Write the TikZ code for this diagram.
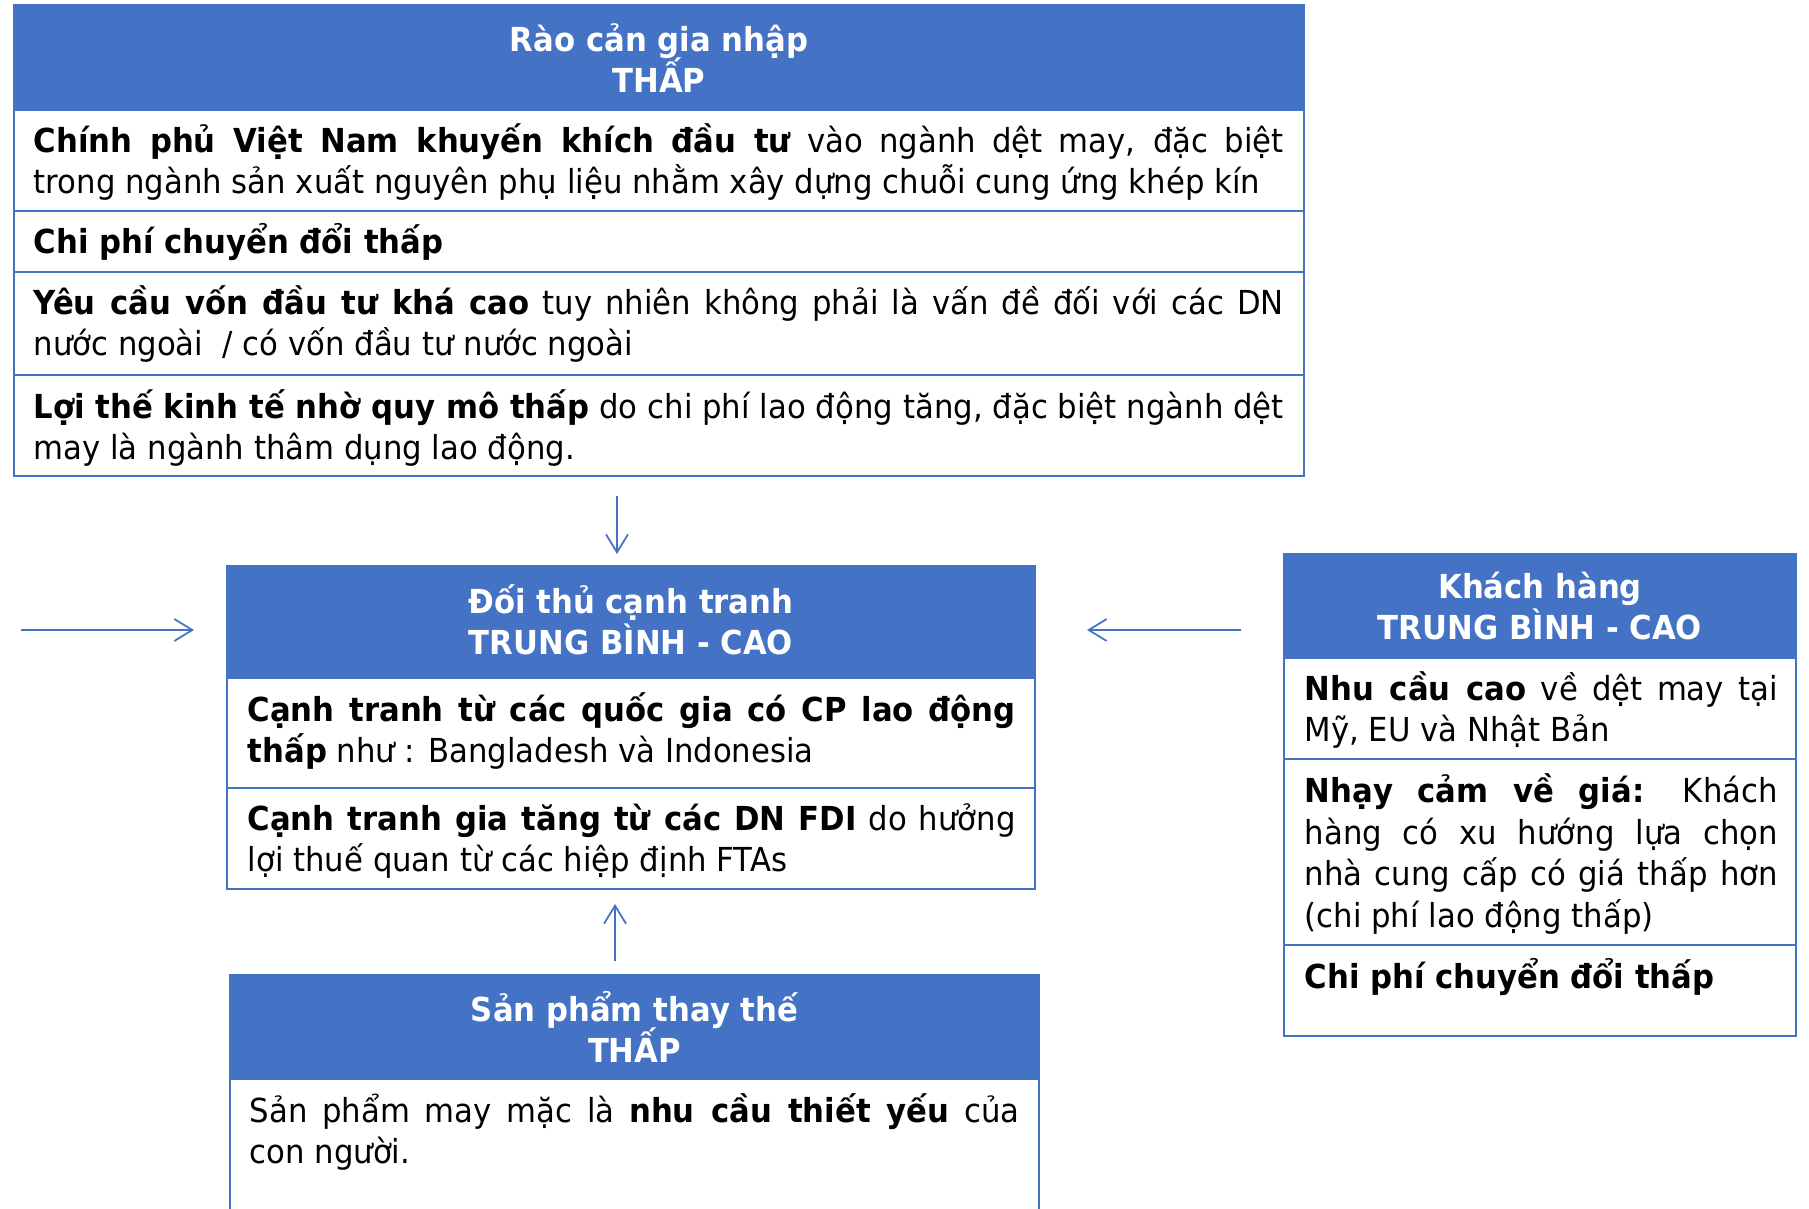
\documentclass[tikz,border=0pt]{standalone}
\usepackage{fontspec}
\setmainfont{DejaVu Sans}[FakeStretch=0.93]
\usetikzlibrary{arrows.meta}

\definecolor{hdrblue}{HTML}{4472C4}
\newcommand\boxfont{\fontsize{9.4}{11.8}\selectfont\lineskiplimit=-5pt}

\tikzset{
  head/.style={fill=hdrblue, draw=hdrblue, line width=0.7pt},
  cell/.style={draw=hdrblue, line width=0.7pt},
  headtext/.style={text=white, font=\boxfont\bfseries, align=center, inner sep=0pt},
  bodytext/.style={font=\boxfont, align=justify, anchor=west, inner sep=0pt},
  force/.style={draw=hdrblue, line width=0.5pt, -{Straight Barb[length=1.8mm, width=2.2mm]}}
}

\begin{document}
\begin{tikzpicture}[x=0.1mm, y=-0.1mm]
  \useasboundingbox (0,0) rectangle (1809,1209);

  % barriers to entry (top)
  \fill[head] (14,5) rectangle (1304,110);
  \foreach \ya/\yb in {110/211, 211/272, 272/375, 375/476}
    \draw[cell] (14,\ya) rectangle (1304,\yb);
  \node[headtext] (raohead) at (659,58) {Rào cản gia nhập\\THẤP};
  \node[bodytext, text width=125mm] (rao1) at (33,162)
    {\textbf{Chính phủ Việt Nam khuyến khích đầu tư} vào ngành dệt may, đặc biệt\linebreak
     trong ngành sản xuất nguyên phụ liệu nhằm xây dựng chuỗi cung ứng khép kín};
  \node[bodytext, text width=125mm] (rao2) at (33,242)
    {\textbf{Chi phí chuyển đổi thấp}};
  \node[bodytext, text width=125mm] (rao3) at (33,324)
    {\textbf{Yêu cầu vốn đầu tư khá cao} tuy nhiên không phải là vấn đề đối với các DN\linebreak
     nước ngoài~ / có vốn đầu tư nước ngoài};
  \node[bodytext, text width=125mm] (rao4) at (33,428)
    {\textbf{Lợi thế kinh tế nhờ quy mô thấp} do chi phí lao động tăng, đặc biệt ngành dệt\linebreak
     may là ngành thâm dụng lao động.};

  % rivalry (centre)
  \fill[head] (227,566) rectangle (1035,678);
  \foreach \ya/\yb in {678/788, 788/889}
    \draw[cell] (227,\ya) rectangle (1035,\yb);
  \node[headtext] (doithuhead) at (631,620) {Đối thủ cạnh tranh\\TRUNG BÌNH - CAO};
  \node[bodytext, text width=76.8mm] (doithu1) at (247,731)
    {\textbf{Cạnh tranh từ các quốc gia có CP lao động\linebreak
     thấp} như : Bangladesh và Indonesia};
  \node[bodytext, text width=76.8mm] (doithu2) at (247,841)
    {\textbf{Cạnh tranh gia tăng từ các DN FDI} do hưởng\linebreak
     lợi thuế quan từ các hiệp định FTAs};

  % buyers (right)
  \fill[head] (1284,554) rectangle (1796,658);
  \foreach \ya/\yb in {658/759, 759/945, 945/1036}
    \draw[cell] (1284,\ya) rectangle (1796,\yb);
  \node[headtext] (khachhead) at (1540,606) {Khách hàng\\TRUNG BÌNH - CAO};
  \node[bodytext, text width=47.3mm] (khach1) at (1304,710)
    {\textbf{Nhu cầu cao} về dệt may tại\linebreak
     Mỹ, EU và Nhật Bản};
  \node[bodytext, text width=47.3mm] (khach2) at (1304,854)
    {\textbf{Nhạy cảm về giá:} Khách\linebreak
     hàng có xu hướng lựa chọn\linebreak
     nhà cung cấp có giá thấp hơn\linebreak
     (chi phí lao động thấp)};
  \node[bodytext, text width=47.3mm] (khach3) at (1304,977)
    {\textbf{Chi phí chuyển đổi thấp}};

  % substitutes (bottom)
  \fill[head] (230,975) rectangle (1039,1079);
  \draw[cell] (230,1079) rectangle (1039,1225);
  \node[headtext] (thaythehead) at (634.5,1027) {Sản phẩm thay thế\\THẤP};
  \node[bodytext, text width=77mm] (thaythe1) at (249,1132)
    {Sản phẩm may mặc là \textbf{nhu cầu thiết yếu} của\linebreak
     con người.};

  % forces acting on the rivalry box
  \coordinate (rao-out) at (617,496);
  \coordinate (doithu-top) at (617,554);
  \coordinate (moi-out) at (21,630);
  \coordinate (doithu-left) at (194,630);
  \coordinate (khach-out) at (1241,630);
  \coordinate (doithu-right) at (1087,630);
  \coordinate (thaythe-out) at (615,961);
  \coordinate (doithu-bottom) at (615,904);
  \draw[force] (rao-out) -- (doithu-top);
  \draw[force] (moi-out) -- (doithu-left);
  \draw[force] (khach-out) -- (doithu-right);
  \draw[force] (thaythe-out) -- (doithu-bottom);
\end{tikzpicture}
\end{document}
